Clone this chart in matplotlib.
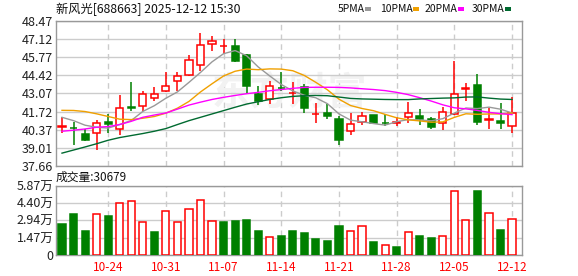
import matplotlib
matplotlib.use("Agg")
import matplotlib.pyplot as plt
import numpy as np
import pandas as pd

plt.rcParams['font.family'] = ['Noto Sans CJK SC', 'DejaVu Sans']

# trading days shown (2025)
dates = ['10-20', '10-21', '10-22', '10-23', '10-24',
         '10-27', '10-28', '10-29', '10-30', '10-31',
         '11-03', '11-04', '11-05', '11-06', '11-07',
         '11-10', '11-11', '11-12', '11-13', '11-14',
         '11-17', '11-18', '11-19', '11-20', '11-21',
         '11-24', '11-25', '11-26', '11-27', '11-28',
         '12-01', '12-02', '12-03', '12-04', '12-05',
         '12-08', '12-09', '12-10', '12-11', '12-12']
tick_dates = ['10-24', '10-31', '11-07', '11-14', '11-21', '11-28', '12-05', '12-12']

opens = [40.60, 40.52, 40.05, 40.10, 40.92, 40.40, 42.05, 42.11, 42.71, 43.23,
         44.00, 44.42, 45.16, 46.75, 46.60, 46.57, 45.95, 43.03, 42.66, 43.49,
         43.08, 43.52, 41.52, 41.61, 41.17, 40.25, 40.97, 41.44, 40.89, 40.87,
         41.29, 41.39, 41.17, 40.85, 41.56, 43.43, 43.67, 41.10, 41.02, 40.62]
highs = [41.29, 40.94, 40.45, 41.09, 41.54, 42.93, 43.92, 43.23, 43.52, 44.66,
         44.66, 45.90, 47.57, 47.32, 47.15, 47.15, 46.00, 43.60, 43.97, 44.66,
         43.92, 43.77, 42.36, 42.28, 41.37, 41.61, 41.69, 41.49, 41.56, 41.29,
         42.43, 41.94, 41.29, 42.08, 45.51, 43.85, 44.52, 41.99, 42.36, 42.78]
lows = [40.12, 39.26, 39.55, 38.89, 40.13, 40.00, 41.79, 41.74, 42.53, 43.20,
        43.23, 44.40, 44.71, 46.20, 46.00, 45.45, 43.03, 42.18, 42.28, 43.28,
        42.28, 41.61, 40.89, 41.19, 39.21, 40.00, 40.70, 40.80, 40.62, 40.67,
        40.87, 40.70, 40.45, 40.37, 41.49, 42.48, 40.75, 40.45, 40.45, 40.13]
closes = [40.64, 40.48, 39.63, 40.85, 40.82, 41.99, 41.97, 43.00, 43.00, 43.60,
          44.34, 45.53, 46.70, 46.95, 46.64, 45.51, 43.60, 42.53, 43.60, 43.44,
          43.12, 41.99, 41.56, 41.42, 39.63, 40.80, 41.37, 40.89, 40.85, 40.91,
          41.59, 41.19, 40.60, 41.66, 43.00, 43.47, 40.97, 41.14, 40.89, 41.59]

# volume in 万手, colour as drawn on the chart (1 = red)
volume = [2.63, 3.47, 2.04, 3.45, 3.30, 4.38, 4.55, 2.77, 1.95, 3.70,
          2.77, 3.87, 4.63, 2.86, 2.80, 2.88, 2.97, 2.04, 1.50, 1.61,
          2.04, 1.89, 1.36, 1.19, 2.46, 2.01, 2.43, 1.13, 0.82, 0.68,
          1.95, 1.61, 1.44, 1.61, 5.40, 2.97, 5.45, 3.56, 2.12, 3.0679]
vol_up = [0, 0, 0, 1, 0, 1, 1, 1, 0, 1,
          1, 1, 1, 1, 0, 0, 0, 0, 1, 0,
          0, 0, 0, 0, 0, 1, 1, 0, 1, 0,
          1, 0, 0, 1, 1, 1, 0, 1, 0, 1]

# moving average values before enough days are in the window
ma5_head = [41.29, 41.04, 40.70, 40.55]
ma10_head = [41.81, 41.80, 41.72, 41.55, 41.35, 41.15, 41.12, 41.22, 41.35]
ma20 = [40.25, 40.33, 40.42, 40.55, 40.60, 40.75, 40.99, 41.29, 41.46, 41.61,
        41.90, 42.20, 42.42, 42.62, 42.78, 42.92, 43.05, 43.15, 43.27, 43.36,
        43.45, 43.52, 43.53, 43.53, 43.52, 43.48, 43.42, 43.36, 43.28, 43.15,
        42.98, 42.75, 42.50, 42.22, 42.00, 41.92, 41.80, 41.66, 41.56, 41.49]
ma30 = [38.62, 38.85, 39.08, 39.32, 39.58, 39.78, 39.93, 40.08, 40.25, 40.45,
        40.75, 41.04, 41.29, 41.54, 41.79, 42.04, 42.28, 42.45, 42.62, 42.75,
        42.85, 42.90, 42.92, 42.90, 42.80, 42.70, 42.66, 42.64, 42.62, 42.61,
        42.61, 42.66, 42.69, 42.72, 42.74, 42.80, 42.81, 42.72, 42.65, 42.62]

price_ticks = [37.66, 39.01, 40.37, 41.72, 43.07, 44.42, 45.77, 47.12, 48.47]
vol_ticks = [0, 1.47, 2.94, 4.40, 5.87]
vol_labels = ['0', '1.47万', '2.94万', '4.40万', '5.87万']

RED = '#ff0000'
GREEN = '#008000'
GRID = '#cccccc'
EDGE = '#999999'
ma_colors = ['#999999', '#f0a000', '#ff00ff', '#006a30']

s = pd.Series(closes)
ma5 = s.rolling(5).mean().values
ma5[:4] = ma5_head
ma10 = s.rolling(10).mean().values
ma10[:9] = ma10_head

x = np.arange(len(dates))
o = np.array(opens); c = np.array(closes); h = np.array(highs); l = np.array(lows)
up = c >= o
w = 0.62

fig = plt.figure(figsize=(5.78, 2.76), dpi=100)
W, H = 578., 276.
ax = fig.add_axes([56 / W, 1 - 166 / H, 466 / W, 145 / H])
axv = fig.add_axes([56 / W, 1 - 255 / H, 466 / W, 69.3 / H])

tick_idx = [dates.index(d) for d in tick_dates]

for a in (ax, axv):
    a.set_xlim(-0.52, 39.86)
    for sp in a.spines.values():
        sp.set_color(EDGE)
        sp.set_linewidth(1.0)
    a.tick_params(length=0, pad=2, labelsize=9, colors='#222222')
    a.set_axisbelow(True)
    for t in tick_idx:
        a.axvline(t, color=GRID, lw=1.0, ls=(0, (4, 3)), zorder=0)

# watermark
ax.text(0.5, 0.5, '东方财富', transform=ax.transAxes, ha='center', va='center',
        fontsize=28, fontweight='bold', color='#f2f2f2', zorder=0)

# candles
bot = np.minimum(o, c)
top = np.maximum(o, c)
hgt = np.maximum(top - bot, 0.04)
ax.vlines(x[up], l[up], bot[up], color=RED, lw=1.1, zorder=2)
ax.vlines(x[up], top[up], h[up], color=RED, lw=1.1, zorder=2)
ax.vlines(x[~up], l[~up], h[~up], color=GREEN, lw=1.1, zorder=2)
ax.bar(x[up], hgt[up], w, bottom=bot[up], facecolor='white', edgecolor=RED, lw=1.1, zorder=3)
ax.bar(x[~up], hgt[~up], w, bottom=bot[~up], facecolor=GREEN, edgecolor=GREEN, lw=1.1, zorder=3)

for vals, col in zip([ma5, ma10, ma20, ma30], ma_colors):
    ax.plot(x, vals, color=col, lw=1.0, zorder=4)

ax.set_ylim(37.66, 48.47)
ax.set_yticks(price_ticks)
ax.set_yticklabels(['%.2f' % v for v in price_ticks])
ax.yaxis.grid(True, color=GRID, lw=1.0)
ax.set_xticks([])

# volume
vu = np.array(vol_up, dtype=bool)
v = np.array(volume)
axv.bar(x[vu], v[vu], w, facecolor='white', edgecolor=RED, lw=1.1, zorder=3)
axv.bar(x[~vu], v[~vu], w, facecolor=GREEN, edgecolor=GREEN, lw=1.1, zorder=3)
axv.set_ylim(0, 5.87)
axv.set_yticks(vol_ticks)
axv.set_yticklabels(vol_labels)
axv.yaxis.grid(True, color=GRID, lw=1.0)
axv.set_xticks(tick_idx)
axv.set_xticklabels(tick_dates, color=RED, fontsize=8.5)
axv.tick_params(axis='x', pad=4)

# header texts
fig.text(56 / W, 1 - 9 / H, '新风光[688663] 2025-12-12 15:30', ha='left', va='center',
         fontsize=8.8, color='#111111')
fig.text(56 / W, 1 - 177 / H, '成交量:%d' % round(volume[-1] * 10000), ha='left', va='center',
         fontsize=8.5, color='#111111')

leg_x = [338, 380, 425, 472]
for lx, name, col in zip(leg_x, ['5PMA', '10PMA', '20PMA', '30PMA'], ma_colors):
    fig.text(lx / W, 1 - 9 / H, name, ha='left', va='center', fontsize=7.5, color='#111111')
    fig.patches.append(plt.Rectangle(((lx + 6 * len(name) + 3) / W, 1 - 11 / H), 6 / W, 4 / H,
                                     transform=fig.transFigure, facecolor=col, edgecolor='none'))

fig.savefig('out.png', dpi=100)
